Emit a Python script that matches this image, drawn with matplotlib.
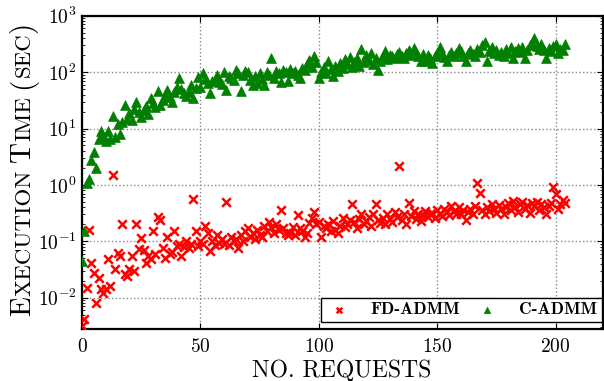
import numpy as np
import matplotlib
matplotlib.use("Agg")
import matplotlib.pyplot as plt
from matplotlib.ticker import LogLocator

plt.rcParams['font.family'] = ['cmr10', 'DejaVu Serif']
plt.rcParams['mathtext.fontset'] = 'cm'
plt.rcParams['axes.formatter.use_mathtext'] = True
plt.rcParams['axes.unicode_minus'] = False

# ---------------- data ----------------
requests = list(range(0, 205))

c_admm = [
    0.045, 0.15, 1.1, 1.25, 2.8, 3.8, 2.0, 6.5, 9.0, 7.0,
    6.0, 9.0, 6.5, 17, 7.0, 12, 8.0, 13, 26, 15,
    19, 14, 22, 30, 20, 16, 21, 25, 18, 35,
    28, 24, 46, 26, 32, 40, 49, 36, 30, 45,
    55, 78, 50, 42, 37, 45, 60, 35, 52, 83,
    55, 96, 75, 65, 43, 70, 72, 90, 68, 62,
    100, 49, 85, 80, 72, 110, 95, 47, 88, 105,
    100, 72, 58, 85, 65, 95, 75, 58, 100, 90,
    175, 78, 105, 95, 68, 110, 100, 70, 115, 98,
    105, 90, 80, 120, 110, 140, 165, 125, 190, 150,
    78, 100, 125, 95, 155, 115, 85, 130, 105, 145,
    120, 170, 140, 185, 125, 150, 175, 130, 260, 150,
    200, 165, 215, 140, 180, 110, 160, 195, 235, 170,
    205, 190, 175, 210, 230, 195, 180, 220, 250, 200,
    270, 230, 190, 160, 210, 160, 200, 175, 145, 190,
    220, 280, 210, 185, 155, 200, 230, 190, 215, 265,
    235, 195, 155, 220, 245, 210, 190, 260, 225, 300,
    345, 155, 240, 280, 220, 250, 205, 230, 195, 255,
    215, 280, 180, 240, 265, 225, 280, 180, 250, 300,
    330, 400, 290, 260, 310, 250, 180, 270, 240, 285,
    310, 215, 260, 250, 310,
]

fd_admm = [
    0.0031, 0.0042, 0.015, 0.16, 0.042, 0.027, 0.0081, 0.022, 0.014, 0.012,
    0.014, 0.049, 0.016, 1.5, 0.032, 0.063, 0.055, 0.2, 0.026, 0.024,
    0.032, 0.055, 0.03, 0.2, 0.072, 0.115, 0.07, 0.042, 0.055, 0.048,
    0.15, 0.06, 0.27, 0.24, 0.075, 0.05, 0.12, 0.059, 0.065, 0.15,
    0.083, 0.09, 0.055, 0.08, 0.1, 0.075, 0.09, 0.56, 0.15, 0.083,
    0.1, 0.09, 0.19, 0.14, 0.068, 0.1, 0.085, 0.13, 0.095, 0.11,
    0.09, 0.5, 0.085, 0.12, 0.1, 0.11, 0.075, 0.13, 0.1, 0.15,
    0.17, 0.12, 0.14, 0.11, 0.16, 0.13, 0.12, 0.19, 0.15, 0.22,
    0.18, 0.14, 0.2, 0.16, 0.36, 0.17, 0.14, 0.13, 0.14, 0.18,
    0.13, 0.29, 0.17, 0.15, 0.12, 0.14, 0.21, 0.26, 0.33, 0.2,
    0.22, 0.12, 0.19, 0.17, 0.2, 0.15, 0.23, 0.16, 0.14, 0.19,
    0.26, 0.18, 0.2, 0.24, 0.45, 0.22, 0.17, 0.25, 0.3, 0.2,
    0.23, 0.27, 0.19, 0.31, 0.45, 0.24, 0.21, 0.26, 0.2, 0.3,
    0.25, 0.22, 0.33, 0.27, 2.2, 0.24, 0.3, 0.2, 0.48, 0.28,
    0.35, 0.25, 0.31, 0.23, 0.29, 0.34, 0.27, 0.3, 0.32, 0.26,
    0.36, 0.3, 0.28, 0.38, 0.33, 0.29, 0.42, 0.35, 0.31, 0.4,
    0.3, 0.36, 0.24, 0.33, 0.38, 0.3, 0.42, 1.1, 0.72, 0.36,
    0.3, 0.4, 0.34, 0.45, 0.38, 0.32, 0.44, 0.37, 0.3, 0.41,
    0.48, 0.36, 0.52, 0.4, 0.33, 0.45, 0.5, 0.38, 0.44, 0.32,
    0.47, 0.42, 0.5, 0.36, 0.45, 0.4, 0.3, 0.42, 0.48, 0.9,
    0.7, 0.38, 0.46, 0.55, 0.48,
]

series_labels = ["FD-ADMM", "C-ADMM"]
x_ticks = [0, 50, 100, 150, 200]

# ---------------- figure ----------------
W, H = 604, 381
fig = plt.figure(figsize=(W / 100, H / 100), dpi=100)
ax = fig.add_axes([82 / W, 1 - 329.3 / H, (603 - 82) / W, (329.3 - 15.7) / H])

ax.scatter(requests, fd_admm, marker='x', s=38, c='#ff0000', linewidths=1.8,
           label=series_labels[0], zorder=3)
ax.scatter(requests, c_admm, marker='^', s=50, c='#007f00', edgecolors='#007f00',
           linewidths=0.5, label=series_labels[1], zorder=3)

ax.set_yscale('log')
ax.set_xlim(0, 220)
ax.set_ylim(10 ** -2.56, 1e3)
ax.set_xticks(x_ticks)
ax.yaxis.set_major_locator(LogLocator(base=10, numticks=10))
ax.yaxis.set_minor_locator(LogLocator(base=10, subs=np.arange(2, 10), numticks=20))

ax.grid(True, which='major', linestyle=':', color='#888888', linewidth=1.0)
ax.set_axisbelow(True)

for sp in ax.spines.values():
    sp.set_linewidth(1.6)

ax.tick_params(axis='both', which='major', direction='in', length=4, width=0.8,
               labelsize=14, top=True, right=True)
ax.tick_params(axis='y', which='minor', direction='in', length=2, width=0.6,
               left=True, right=True)
ax.tick_params(axis='x', which='major', pad=6)
ax.tick_params(axis='y', which='major', pad=4)

# x label (small caps look)
fig.text(342 / W, (H - 377) / H, "NO. REQUESTS", fontsize=17,
         ha='center', va='baseline')

leg = ax.legend(loc='lower right', bbox_to_anchor=(0.9975, 0.0242),
                ncol=2, scatterpoints=1, fancybox=False,
                framealpha=1, edgecolor='black', borderpad=0.25,
                handletextpad=1.1, handlelength=1.5, markerscale=0.65,
                columnspacing=0.8, borderaxespad=0,
                prop={'family': 'cmb10', 'size': 12.5})
leg.get_frame().set_linewidth(1.0)

# small-caps style y label built from pieces
fig.canvas.draw()
renderer = fig.canvas.get_renderer()
pieces = [("E", 21), ("XECUTION", 16.5), (" ", 16.5), ("T", 21), ("IME", 16.5),
          (" ", 16.5), ("(", 21), ("SEC", 16.5), (")", 21)]
ypos = H - 316.0
xbase = 30.0
for txt, size in pieces:
    if txt == " ":
        ypos += size * 100 / 72 * 0.33
        continue
    t = fig.text(xbase / W, ypos / H, txt, fontsize=size, rotation=90,
                 rotation_mode='anchor', ha='left', va='baseline')
    bb = t.get_window_extent(renderer)
    ypos += bb.height

fig.savefig("out.png", dpi=100)
